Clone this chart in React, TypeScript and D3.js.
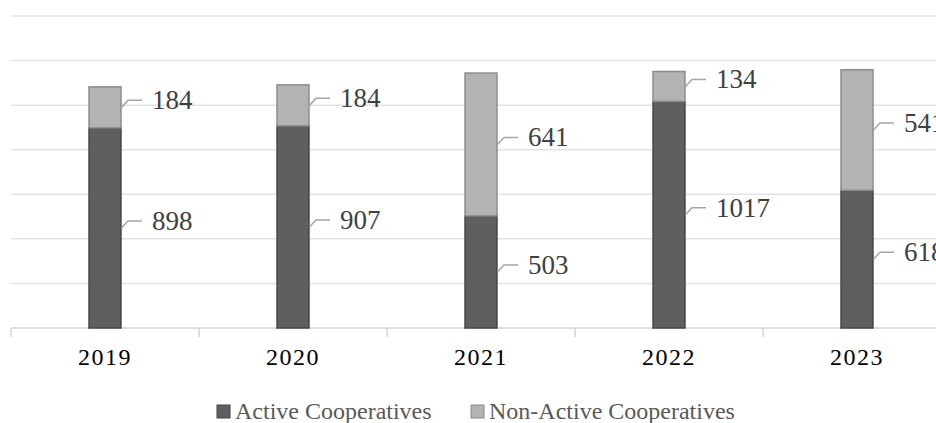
import React from "react";
import * as d3 from "d3";

const years = ["2019", "2020", "2021", "2022", "2023"];
const active = [898, 907, 503, 1017, 618];
const nonActive = [184, 184, 641, 134, 541];
const gridTicks = [200, 400, 600, 800, 1000, 1200, 1400];
const seriesNames = ["Active Cooperatives", "Non-Active Cooperatives"];

const W = 936;
const H = 423;
const FONT = "'Liberation Serif', 'Times New Roman', serif";
const activeFill = "#5f5f5f";
const activeStroke = "#474747";
const nonFill = "#b3b3b3";
const nonStroke = "#8c8c8c";

export default function App() {
  const x = d3
    .scaleBand<string>()
    .domain(years)
    .range([11, 951])
    .paddingInner(0.83)
    .paddingOuter(0.415);
  const step = x.step();
  const y = d3.scaleLinear().domain([0, 1400]).range([328, 16]);
  const bw = x.bandwidth();

  const stack = d3
    .stack<number>()
    .keys(["a", "n"])
    .value((i, k) => (k === "a" ? active[i] : nonActive[i]));
  const series = stack(years.map((_, i) => i));
  const fills = [activeFill, nonFill];
  const strokes = [activeStroke, nonStroke];

  return (
    <svg
      width={W}
      height={H}
      style={{ position: "absolute", left: 0, top: 0, background: "#fff" }}
    >
      {gridTicks.map((t) => (
        <line
          key={t}
          x1={11}
          x2={W}
          y1={y(t)}
          y2={y(t)}
          stroke="#e3e3e3"
          strokeWidth={1.5}
        />
      ))}
      <line x1={11} x2={W} y1={y(0)} y2={y(0)} stroke="#d4d4d4" strokeWidth={1.5} />
      {years.map((yr, i) => (
        <line
          key={"tk" + yr}
          x1={11 + i * step}
          x2={11 + i * step}
          y1={y(0)}
          y2={y(0) + 9}
          stroke="#d4d4d4"
          strokeWidth={1.5}
        />
      ))}
      {series.map((s, si) =>
        s.map((d, i) => (
          <rect
            key={si + "-" + i}
            x={x(years[i])!}
            y={y(d[1])}
            width={bw}
            height={y(d[0]) - y(d[1])}
            fill={fills[si]}
            stroke={strokes[si]}
            strokeWidth={1.5}
          />
        ))
      )}
      {series.map((s, si) =>
        s.map((d, i) => {
          const bx = x(years[i])! + bw;
          const mid = (y(d[0]) + y(d[1])) / 2;
          const ly = mid - 7;
          const val = si === 0 ? active[i] : nonActive[i];
          return (
            <g key={"lb" + si + "-" + i}>
              <path
                d={`M${bx + 0.5},${mid} L${bx + 7},${ly} L${bx + 21},${ly}`}
                fill="none"
                stroke="#a6a6a6"
                strokeWidth={1.5}
              />
              <text
                x={bx + 31}
                y={ly}
                dominantBaseline="central"
                fontFamily={FONT}
                fontSize={27}
                fill="#404040"
              >
                {val}
              </text>
            </g>
          );
        })
      )}
      {years.map((yr) => (
        <text
          key={"yl" + yr}
          x={x(yr)! + bw / 2}
          y={365}
          textAnchor="middle"
          fontFamily={FONT}
          fontSize={24}
          letterSpacing={1.5}
          fill="#000"
        >
          {yr}
        </text>
      ))}
      <g>
        <rect x={217} y={405} width={13} height={13} fill={activeFill} stroke={activeStroke} strokeWidth={1} />
        <text x={235} y={419} fontFamily={FONT} fontSize={24} fill="#595959">
          {seriesNames[0]}
        </text>
        <rect x={471} y={405} width={13} height={13} fill={nonFill} stroke={nonStroke} strokeWidth={1} />
        <text x={489} y={419} fontFamily={FONT} fontSize={24} fill="#595959">
          {seriesNames[1]}
        </text>
      </g>
    </svg>
  );
}
